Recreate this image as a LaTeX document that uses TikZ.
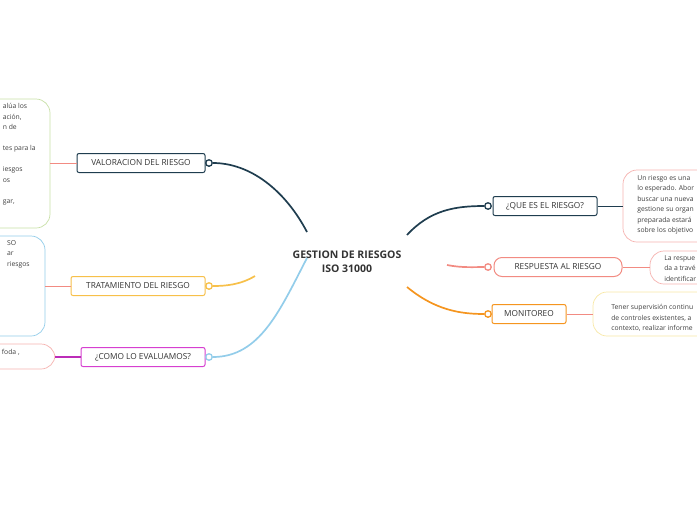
\documentclass[tikz,border=0pt]{standalone}
\usepackage{fontspec}
\setmainfont{Open Sans}
\usetikzlibrary{positioning}

\begin{document}
\begin{tikzpicture}[x=1pt,y=-1pt,semithick]
\tikzstyle{topic} = [draw,rounded corners=2pt,fill=white,minimum height=19pt,inner xsep=4pt,font=\fontsize{8.3}{9}\selectfont,text=black!80,line width=1pt]
\tikzstyle{note} = [draw,rounded corners=14pt,fill=white,line width=0.7pt]
\tikzstyle{notetext} = [align=left,font=\fontsize{6.8}{10.5}\selectfont,text=black!75,inner sep=0pt]
\tikzstyle{dot} = [circle,draw,fill=white,inner sep=0pt,minimum size=6.5pt,line width=1.3pt]
\tikzstyle{branch} = [line width=1.7pt]
\definecolor{dark}{HTML}{1F3D4F}
\definecolor{gold}{HTML}{F7C04A}
\definecolor{sky}{HTML}{93CDEA}
\definecolor{salmon}{HTML}{F28B82}
\definecolor{orng}{HTML}{F5951F}
\definecolor{magenta}{HTML}{D63FD0}
\definecolor{pinkb}{HTML}{F6B3B0}
\definecolor{greenb}{HTML}{C8E0A6}
\definecolor{yellowb}{HTML}{F8E8A6}
\useasboundingbox (0,0) rectangle (697,520);
\clip (0,0) rectangle (697,520);
    \node[font=\bfseries\fontsize{10.5}{14}\selectfont,align=center,text=black!80] (root) at (347,262) {GESTION DE RIESGOS\\ISO 31000};
    % left side
    \node[topic,draw=dark,minimum width=128pt] (val) at (141,163) {VALORACION DEL RIESGO};
    \node[topic,draw=gold,minimum width=134pt] (trat) at (138,286) {TRATAMIENTO DEL RIESGO};
    \node[topic,draw=magenta,minimum width=124pt] (eval) at (143,357) {¿COMO LO EVALUAMOS?};
    \node[dot,draw=dark] (dval) at (209,163) {};
    \node[dot,draw=gold] (dtrat) at (209,286) {};
    \node[dot,draw=sky] (deval) at (209,357) {};
    \coordinate (rval) at (307,232);
    \coordinate (rtrat) at (255,276);
    \coordinate (reval) at (307,258);
    \draw[branch,dark] (rval) .. controls (285,190) and (250,163) .. (dval);
    \draw[branch,gold] (rtrat) .. controls (240,285) and (225,286) .. (dtrat);
    \draw[branch,sky] (reval) .. controls (280,310) and (260,357) .. (deval);
    \draw[note,draw=greenb] (-20,99) rectangle (50,228);
    \draw[note,draw=sky] (-20,236) rectangle (45,336);
    \draw[note,draw=pinkb] (-20,344) rectangle (55,369);
    \coordinate (nval) at (50,163);
    \coordinate (ntrat) at (45,286);
    \coordinate (neval) at (55,357);
    \draw[salmon,thin] (nval) -- (val);
    \draw[salmon,thin] (ntrat) -- (trat);
    \draw[magenta!70!violet,line width=1.4pt] (neval) -- (eval);
    \node[notetext,anchor=north east] (tval) at (36,103) {alúa los\\ación,\\n de\\ \\tes para la\\ \\iesgos\\os\\ \\gar,};
    \node[notetext,anchor=north east] (ttrat) at (30,240) {SO\\ar\\riesgos};
    \node[notetext,anchor=east] (teval) at (20,352) {foda ,};
    % right side
    \node[topic,draw=dark,minimum width=104pt] (que) at (545,206) {¿QUE ES EL RIESGO?};
    \node[topic,draw=salmon,rounded corners=8pt,minimum width=128pt] (resp) at (558,267) {RESPUESTA AL RIESGO};
    \node[topic,draw=orng,minimum width=74pt] (mon) at (529,314) {MONITOREO};
    \node[dot,draw=dark] (dque) at (488,206) {};
    \node[dot,draw=salmon] (dresp) at (488,267) {};
    \node[dot,draw=orng] (dmon) at (488,314) {};
    \coordinate (rque) at (407,235);
    \coordinate (rresp) at (447,265);
    \coordinate (rmon) at (407,287);
    \draw[branch,dark] (rque) .. controls (430,210) and (455,206) .. (dque);
    \draw[branch,salmon] (rresp) .. controls (462,268) and (475,267) .. (dresp);
    \draw[branch,orng] (rmon) .. controls (435,310) and (460,314) .. (dmon);
    \draw[note,draw=pinkb] (623,170) rectangle (740,242);
    \draw[note,draw=pinkb] (650,251) rectangle (740,284);
    \draw[note,draw=yellowb] (593,292) rectangle (740,336);
    \coordinate (nque) at (623,206);
    \coordinate (nresp) at (650,267);
    \coordinate (nmon) at (593,314);
    \draw[dark] (que) -- (nque);
    \draw[salmon,thin] (resp) -- (nresp);
    \draw[salmon,thin] (mon) -- (nmon);
    \node[notetext,anchor=north west] (tque) at (637,175) {Un riesgo es una\\lo esperado. Abor\\buscar una nueva\\gestione su organ\\preparada estará\\sobre los objetivo};
    \node[notetext,anchor=north west] (tresp) at (664,255) {La respue\\da a travé\\identificar};
    \node[notetext,anchor=north west] (tmon) at (611,304) {Tener supervisión continu\\de controles existentes, a\\contexto, realizar informe};
\end{tikzpicture}
\end{document}
